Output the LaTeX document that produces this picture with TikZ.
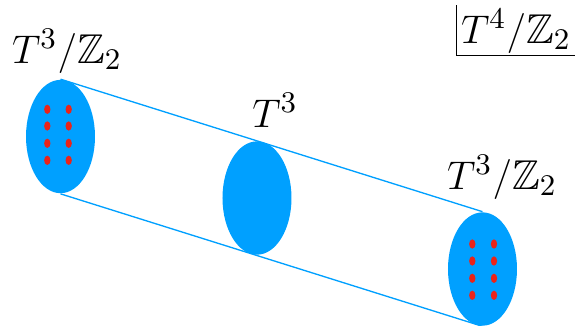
\documentclass[tikz,border=0pt]{standalone}
\usepackage{amssymb}
\usetikzlibrary{shapes.geometric,backgrounds}
\definecolor{cblue}{RGB}{0,160,255}
\definecolor{cred}{RGB}{235,35,25}
\begin{document}
\begin{tikzpicture}[x=0.3pt,y=-0.3pt,
 disc/.style={ellipse,fill=cblue,draw=none,minimum width=20.7pt,minimum height=34pt,inner sep=0pt},
 reddot/.style={ellipse,fill=cred,draw=none,minimum width=1.9pt,minimum height=2.8pt,inner sep=0pt},
 tube/.style={cblue,line width=0.4pt},
 lab/.style={anchor=base,inner sep=0pt,font=\fontsize{12.5}{15}\selectfont}]
\useasboundingbox (0,0) rectangle (575,325);
\node[disc] (L) at (60.5,136.5) {};
\node[disc] (M) at (257,198) {};
\node[disc] (R) at (482.5,269) {};
\begin{scope}[on background layer]
\draw[tube] (L.north) -- (R.north);
\draw[tube] (L.south) -- (R.south);
\end{scope}
\foreach \y [count=\i] in {109.3,126,143.3,160.3}{
  \node[reddot] (la\i) at (47.3,\y) {};
  \node[reddot] (lb\i) at (68.7,\y) {};
}
\foreach \y [count=\i] in {244,261,278.3,295.3}{
  \node[reddot] (ra\i) at (472.3,\y) {};
  \node[reddot] (rb\i) at (494,\y) {};
}
\node[lab] (tl) at (67,63) {$T^3/\mathbb{Z}_2$};
\node[lab] (tm) at (275,127) {$T^3$};
\node[lab] (tr) at (502,189) {$T^3/\mathbb{Z}_2$};
\node[lab] (tc) at (516,43) {$T^4/\mathbb{Z}_2$};
\coordinate (c0) at (457,5);
\coordinate (c1) at (457,55);
\coordinate (c2) at (575,55);
\draw[line width=0.3pt] (c0) -- (c1) -- (c2);
\end{tikzpicture}
\end{document}
